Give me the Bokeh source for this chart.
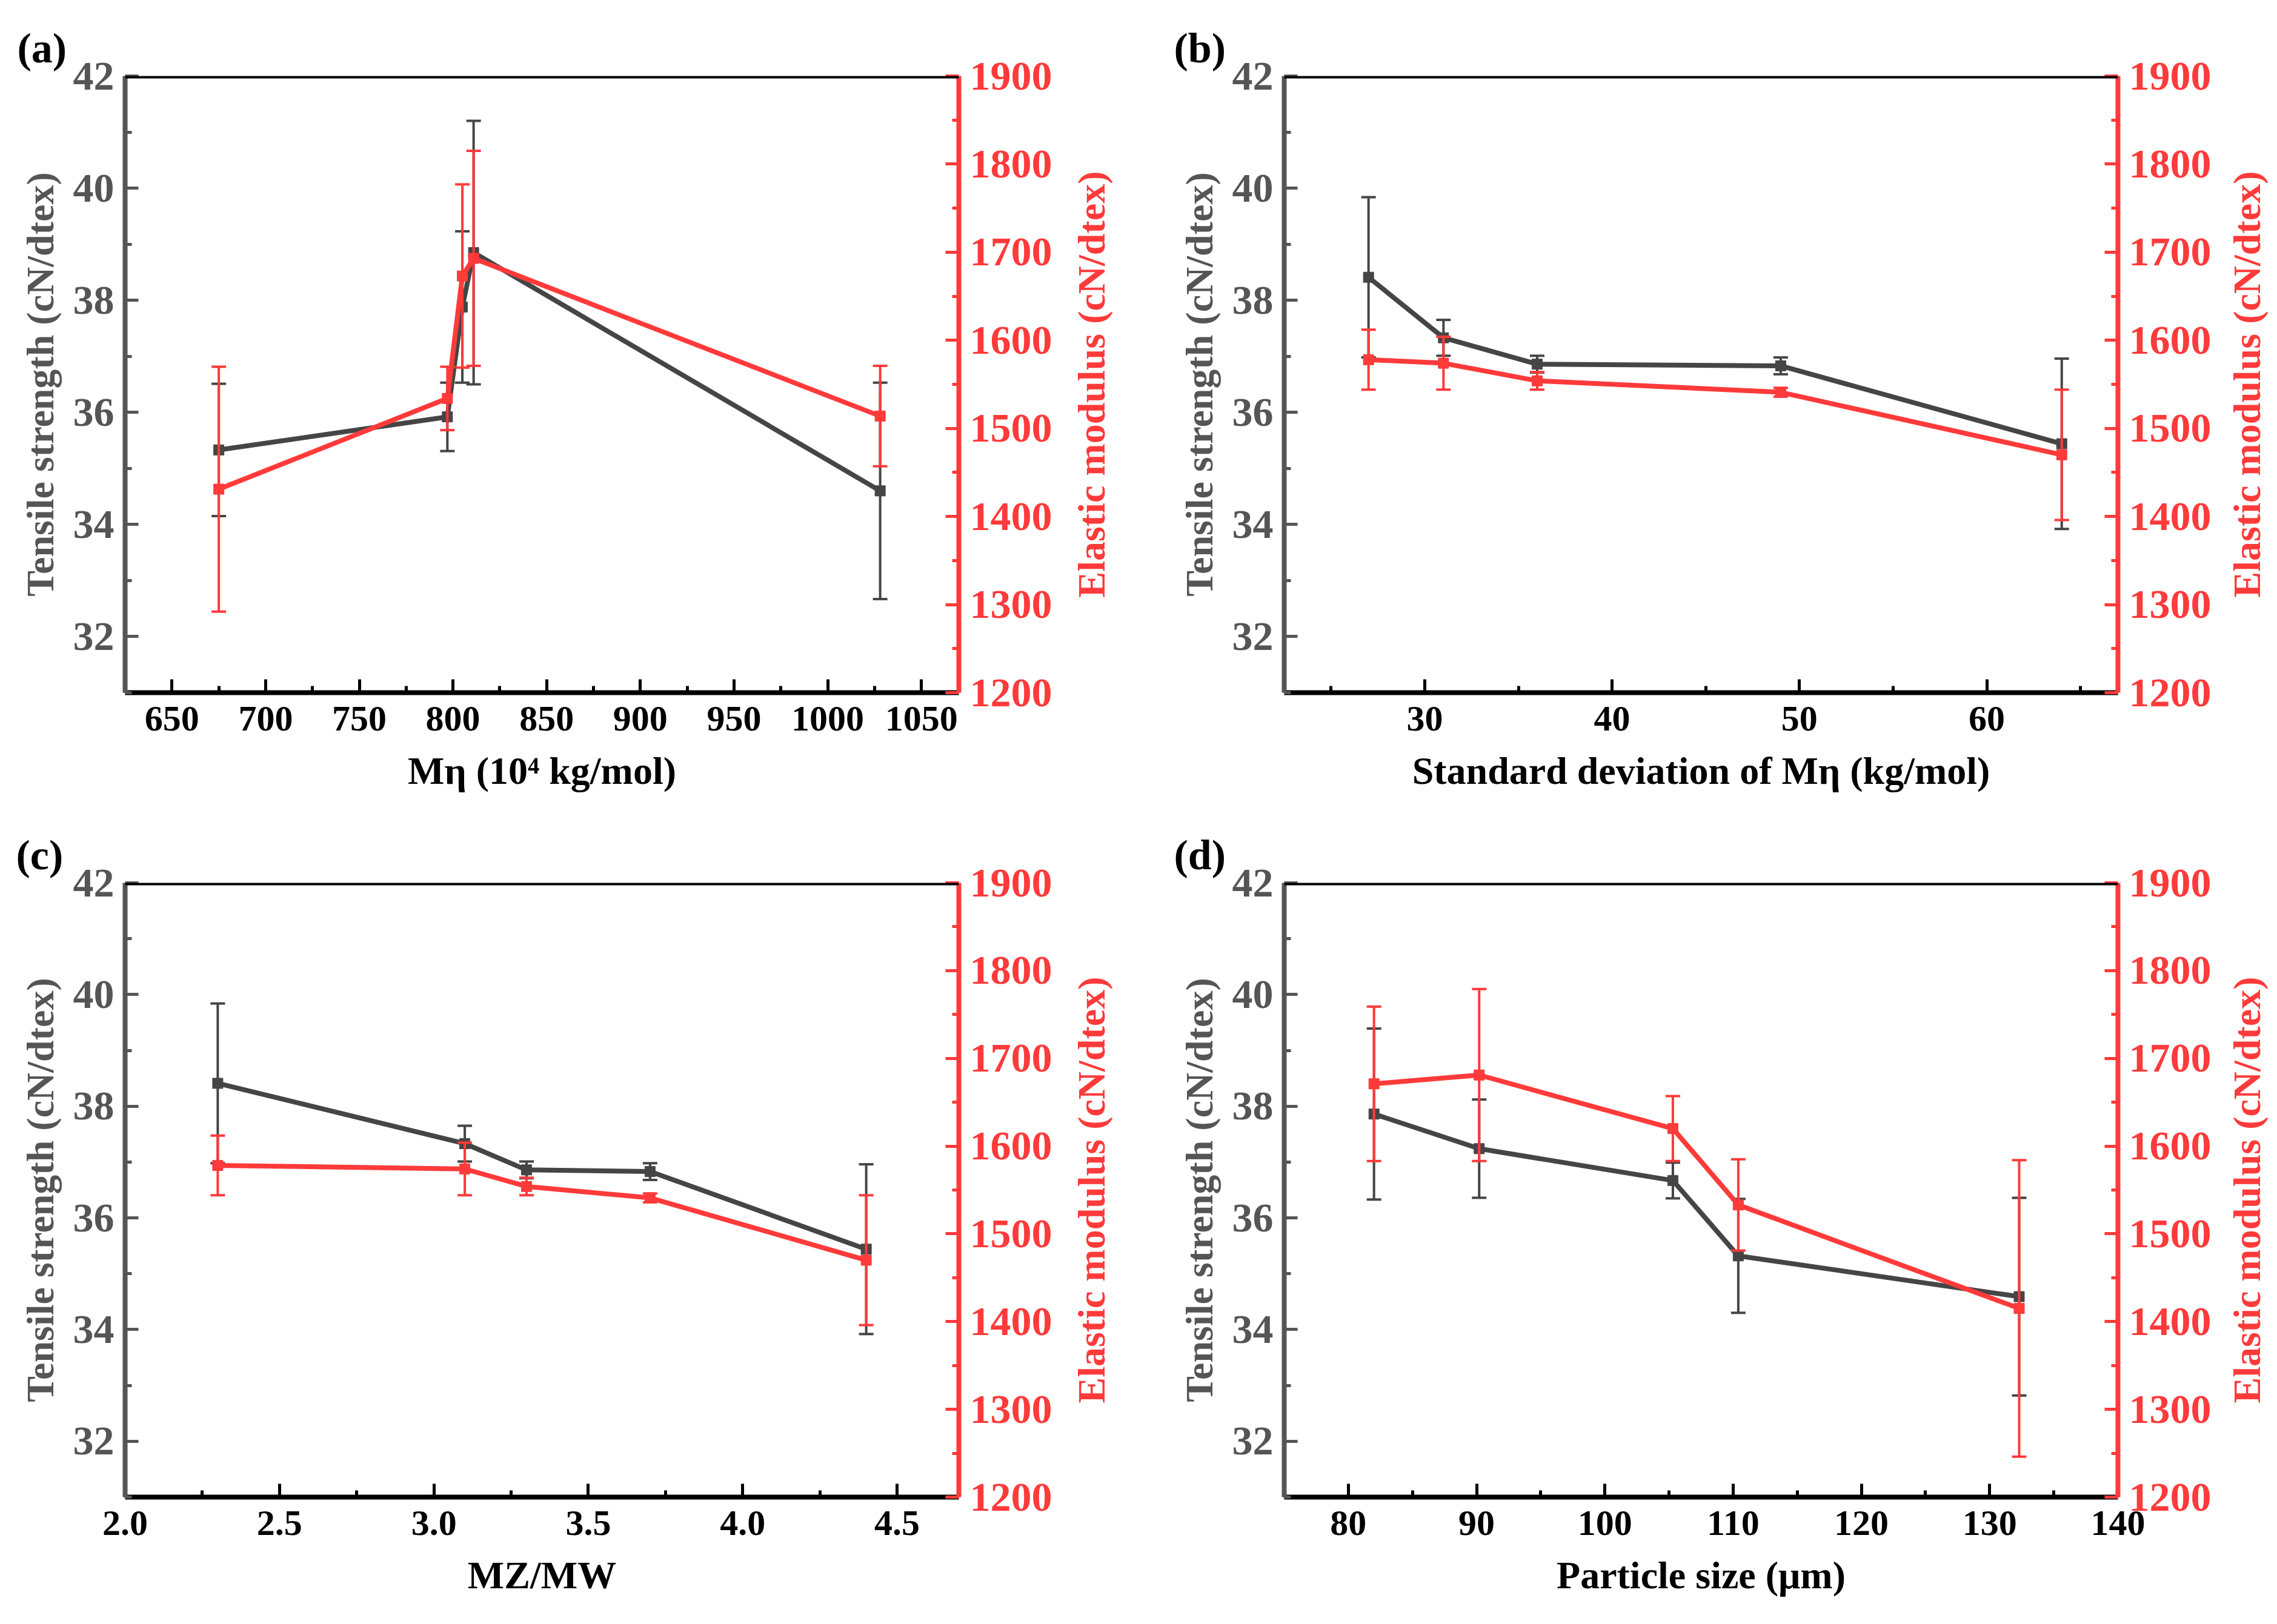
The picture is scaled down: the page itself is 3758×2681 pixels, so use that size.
import math
from bokeh.plotting import figure
from bokeh.models import Range1d, LinearAxis, FixedTicker, Span, PrintfTickFormatter
from bokeh.layouts import gridplot
from bokeh.embed import file_html
from bokeh.resources import INLINE

# ---------------- data ----------------
a_x = [675, 797, 805, 811, 1028]
a_ts = [35.33, 35.92, 37.88, 38.85, 34.60]
a_ts_err = [1.18, 0.61, 1.35, 2.35, 1.93]
a_em = [1431, 1534, 1673, 1693, 1514]
a_em_err = [139, 36, 104, 122, 57]

b_x = [27, 31, 36, 49, 64]
c_x = [2.3, 3.1, 3.3, 3.7, 4.4]
bc_ts = [38.41, 37.33, 36.86, 36.83, 35.44]
bc_ts_err = [1.43, 0.32, 0.15, 0.15, 1.52]
bc_em = [1578, 1574, 1554, 1541, 1470]
bc_em_err = [34, 30, 10, 5, 74]

d_x = [82, 90.2, 105.3, 110.4, 132.3]
d_ts = [37.86, 37.24, 36.67, 35.32, 34.59]
d_ts_err = [1.53, 0.88, 0.32, 1.02, 1.77]
d_em = [1671, 1681, 1620, 1533, 1415]
d_em_err = [88, 98, 37, 52, 169]

a_xticks = [650, 700, 750, 800, 850, 900, 950, 1000, 1050]
b_xticks = [30, 40, 50, 60]
c_xticks = [2.0, 2.5, 3.0, 3.5, 4.0, 4.5]
d_xticks = [80, 90, 100, 110, 120, 130, 140]
ts_ticks = [32, 34, 36, 38, 40, 42]
em_ticks = [1200, 1300, 1400, 1500, 1600, 1700, 1800, 1900]

FONT = "Liberation Serif"
GRAY = "#454545"
AXGRAY = "#555555"
RED = "#ff3a3a"


def minors(ticks, lo, hi):
    step = ticks[1] - ticks[0]
    out = []
    v = ticks[0] - step / 2
    while v >= lo:
        out.append(v)
        v -= step
    for t in ticks:
        for m in (t - step / 2, t + step / 2):
            if lo <= m <= hi:
                out.append(m)
    return sorted(set(out))


def style_axis(ax, color, label_color):
    ax.axis_line_color = color
    ax.axis_line_width = 8
    ax.major_tick_line_color = color
    ax.minor_tick_line_color = color
    ax.major_tick_line_width = 5
    ax.minor_tick_line_width = 5
    ax.major_tick_in = 22
    ax.major_tick_out = 0
    ax.minor_tick_in = 11
    ax.minor_tick_out = 0
    ax.major_label_text_font = FONT
    ax.major_label_text_font_size = "68px"
    ax.major_label_text_font_style = "bold"
    ax.major_label_text_color = label_color
    ax.major_label_text_line_height = 1.0
    ax.major_label_standoff = 18
    ax.axis_label_text_font = FONT
    ax.axis_label_text_font_size = "64px"
    ax.axis_label_text_font_style = "bold"
    ax.axis_label_text_color = label_color
    ax.axis_label_text_line_height = 1.0
    ax.axis_label_standoff = 16


def panel(tag, xs, ts, ts_err, em, em_err, xr, xticks, xlabel,
          w, h, bl, br, bt, bb, toff, xfmt=None):
    p = figure(width=w, height=h, output_backend="svg", toolbar_location=None,
               x_range=Range1d(*xr), y_range=Range1d(31, 42),
               min_border_left=bl, min_border_right=br,
               min_border_top=bt, min_border_bottom=bb,
               background_fill_color="white", border_fill_color="white")
    p.grid.visible = False
    p.outline_line_color = None
    p.extra_y_ranges = {"em": Range1d(1200, 1900)}

    xa = p.xaxis[0]
    xa.ticker = FixedTicker(ticks=xticks, minor_ticks=minors(xticks, xr[0], xr[1]))
    if xfmt:
        xa.formatter = PrintfTickFormatter(format=xfmt)
    style_axis(xa, "black", "black")
    xa.axis_label = xlabel
    xa.major_label_text_font_size = "60px"
    xa.major_label_standoff = 23
    xa.axis_label_standoff = 28

    ya = p.yaxis[0]
    ya.ticker = FixedTicker(ticks=ts_ticks, minor_ticks=minors(ts_ticks, 31, 42))
    style_axis(ya, AXGRAY, AXGRAY)
    ya.axis_label = "Tensile strength (cN/dtex)"

    ra = LinearAxis(y_range_name="em")
    ra.ticker = FixedTicker(ticks=em_ticks, minor_ticks=minors(em_ticks, 1200, 1900))
    style_axis(ra, RED, RED)
    p.add_layout(ra, "right")

    p.add_layout(Span(location=42, dimension="width", line_color="black", line_width=8))

    p.title.text = tag
    p.title.text_font = FONT
    p.title.text_font_size = "70px"
    p.title.text_font_style = "bold"
    p.title.text_color = "black"
    p.title.align = "left"
    p.title.offset = toff
    p.title.standoff = 16

    lo = [v - e for v, e in zip(ts, ts_err)]
    hi = [v + e for v, e in zip(ts, ts_err)]
    p.segment(x0=xs, y0=lo, x1=xs, y1=hi, line_color=GRAY, line_width=4)
    p.scatter(xs, lo, marker="dash", size=24, line_color=GRAY, line_width=4)
    p.scatter(xs, hi, marker="dash", size=24, line_color=GRAY, line_width=4)
    p.line(xs, ts, line_color=GRAY, line_width=8)
    p.scatter(xs, ts, marker="square", size=17, fill_color=GRAY, line_color=GRAY)

    lo = [v - e for v, e in zip(em, em_err)]
    hi = [v + e for v, e in zip(em, em_err)]
    p.segment(x0=xs, y0=lo, x1=xs, y1=hi, line_color=RED, line_width=4, y_range_name="em")
    p.scatter(xs, lo, marker="dash", size=24, line_color=RED, line_width=4, y_range_name="em")
    p.scatter(xs, hi, marker="dash", size=24, line_color=RED, line_width=4, y_range_name="em")
    p.line(xs, em, line_color=RED, line_width=8, y_range_name="em")
    p.scatter(xs, em, marker="square", size=17, fill_color=RED, line_color=RED, y_range_name="em")
    return p


def side_title(w, h, bl, bt, bb):
    # narrow figure that only carries the right-hand axis title (reads bottom-to-top)
    q = figure(width=w, height=h, output_backend="svg", toolbar_location=None,
               x_range=Range1d(0, 1), y_range=Range1d(1200, 1900),
               min_border_left=bl, min_border_right=0,
               min_border_top=bt, min_border_bottom=bb,
               background_fill_color="white", border_fill_color="white")
    q.grid.visible = False
    q.outline_line_color = None
    q.xaxis.visible = False
    ax = q.yaxis[0]
    ax.ticker = FixedTicker(ticks=[])
    ax.axis_line_color = None
    ax.major_tick_line_color = None
    ax.minor_tick_line_color = None
    ax.major_label_text_font_size = "0px"
    ax.axis_label = "Elastic modulus (cN/dtex)"
    ax.axis_label_text_font = FONT
    ax.axis_label_text_font_size = "64px"
    ax.axis_label_text_font_style = "bold"
    ax.axis_label_text_color = RED
    ax.axis_label_text_line_height = 1.0
    ax.axis_label_standoff = 0
    return q


H1, H2 = 1336, 1329

pa = panel("(a)", a_x, a_ts, a_ts_err, a_em, a_em_err, (625, 1070), a_xticks,
           "Mη (10⁴ kg/mol)", 1752, H1, 206, 170, 125, 193, -178)
la = side_title(127, H1, 84, 125, 193)
pb = panel("(b)", b_x, bc_ts, bc_ts_err, bc_em, bc_em_err, (22.5, 67), b_xticks,
           "Standard deviation of Mη (kg/mol)", 1786, H1, 240, 170, 125, 193, -182)
lb = side_title(85, H1, 78, 125, 193)
pc = panel("(c)", c_x, bc_ts, bc_ts_err, bc_em, bc_em_err, (2.0, 4.7), c_xticks,
           "MZ/MW", 1752, H2, 206, 170, 121, 194, -180, xfmt="%.1f")
lc = side_title(127, H2, 84, 121, 194)
pd_ = panel("(d)", d_x, d_ts, d_ts_err, d_em, d_em_err, (75, 140), d_xticks,
            "Particle size (μm)", 1786, H2, 240, 170, 121, 194, -182)
ld = side_title(85, H2, 78, 121, 194)

grid = gridplot([[pa, la, pb, lb], [pc, lc, pd_, ld]], toolbar_location=None)
open("out.html", "w").write(file_html(grid, INLINE))
